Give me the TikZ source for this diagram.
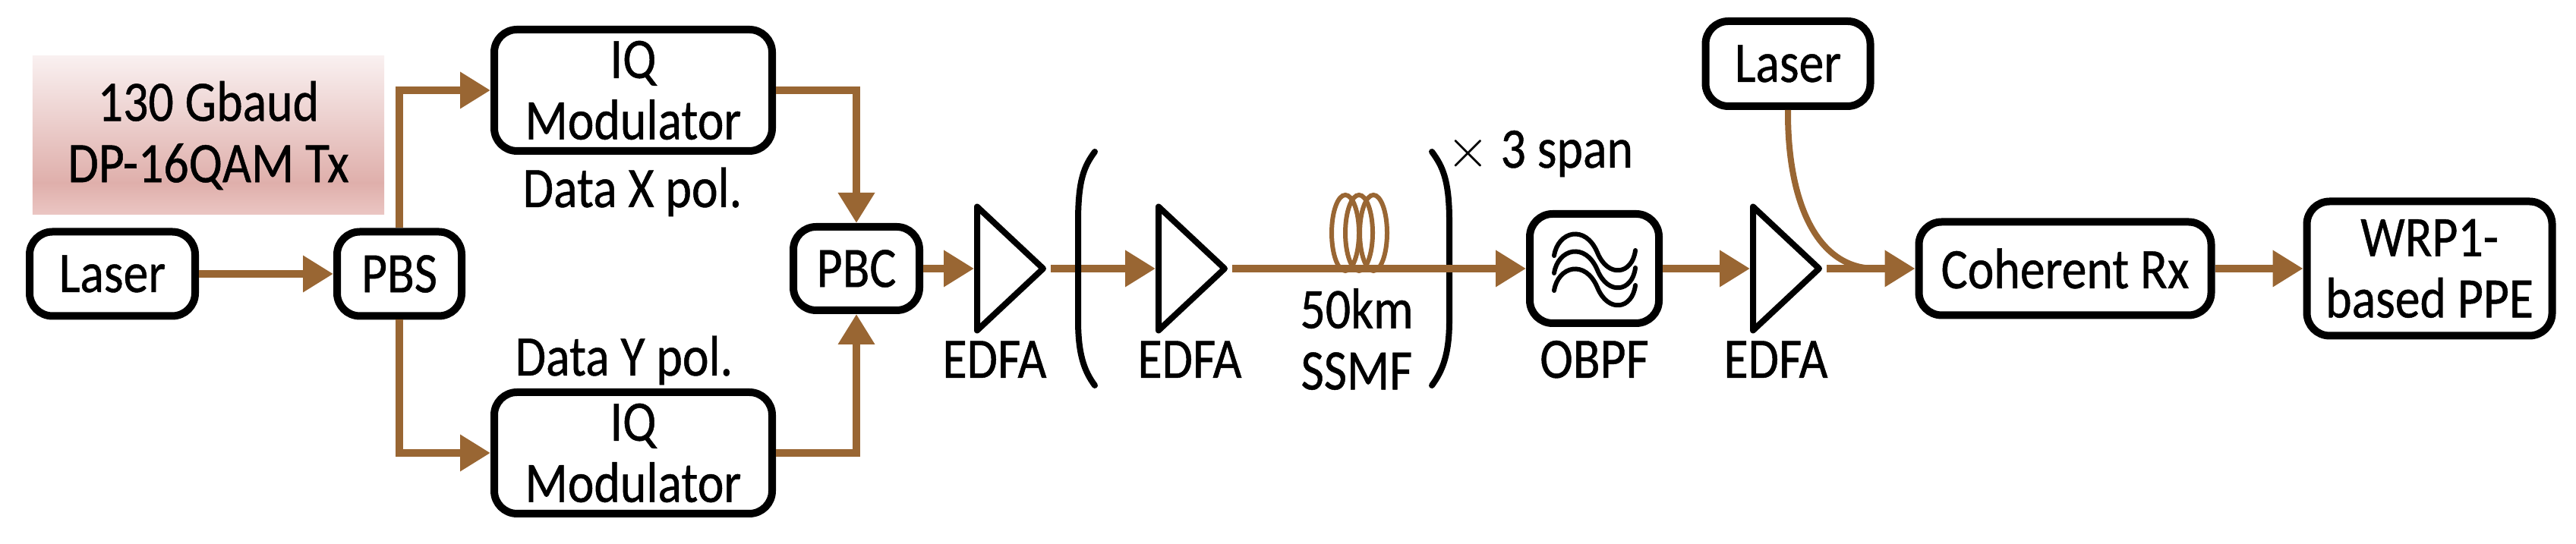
\documentclass[tikz,border=0pt]{standalone}
\usepackage{amsmath,amssymb}
\usepackage{fontspec}
\setmainfont[FakeStretch=0.87,FakeBold=0.6]{Carlito}
\usetikzlibrary{arrows.meta,positioning,calc,shapes.geometric}
\definecolor{fibrebrown}{HTML}{996633}
\definecolor{rosebot}{HTML}{EBC6C3}
\definecolor{rosedark}{HTML}{DFAFAB}
\definecolor{rosetop}{HTML}{F9F0F0}
\pgfdeclareverticalshading{txshade}{100bp}{color(0bp)=(rosebot); color(25bp)=(rosebot); color(35bp)=(rosedark); color(75bp)=(rosetop); color(100bp)=(rosetop)}

\begin{document}
\begin{tikzpicture}[>={Triangle[length=4mm,width=4.6mm]},
  every node/.style={font=\fontsize{21.5}{23}\selectfont,align=center},
  blockbox/.style={draw,rounded corners=3mm,line width=1mm},
  edfa/.style={isosceles triangle,isosceles triangle stretches,draw,line width=0.8mm,line join=round,
    inner sep=0pt,minimum height=0.87cm,minimum width=1.63cm,anchor=lower side},
  fibre/.style={->,line width=1mm,draw=fibrebrown},
  brace/.style={line width=0.8mm,line cap=round}]
\useasboundingbox (0,0) rectangle (33.93,7.17);
\node[shading=txshade,minimum width=4.63cm,minimum height=2.09cm,inner sep=0pt] (tx) at (2.745,5.385) {130 Gbaud\\DP-16QAM Tx};
\node[blockbox,minimum width=2.18cm,minimum height=1.11cm,inner sep=0pt] (laser1) at (1.48,3.56) {Laser};
\node[blockbox,minimum width=1.64cm,minimum height=1.11cm,inner sep=0pt] (pbs) at (5.26,3.56) {PBS};
\node[blockbox,minimum width=3.66cm,minimum height=1.60cm,inner sep=0pt] (iqx) at (8.34,5.98) {IQ\\Modulator};
\node[blockbox,minimum width=3.66cm,minimum height=1.60cm,inner sep=0pt] (iqy) at (8.34,1.20) {IQ\\Modulator};
\node[blockbox,minimum width=1.66cm,minimum height=1.10cm,inner sep=0pt] (pbc) at (11.28,3.63) {PBC};
\node[edfa] (edfa1) at (12.83,3.63) {};
\node[edfa] (edfa2) at (15.22,3.63) {};
\node[edfa] (edfa3) at (23.05,3.63) {};
\node[blockbox,minimum width=1.70cm,minimum height=1.44cm,inner sep=0pt] (obpf) at (21.00,3.63) {};
\node[blockbox,minimum width=2.17cm,minimum height=1.12cm,inner sep=0pt] (laser2) at (23.55,6.33) {Laser};
\node[blockbox,minimum width=3.85cm,minimum height=1.23cm,inner sep=0pt] (coherent) at (27.20,3.63) {Coherent Rx};
\node[blockbox,minimum width=3.23cm,minimum height=1.77cm,inner sep=0pt] (wrp) at (32.00,3.63) {WRP1-\\based PPE};
\coordinate (merge) at (24.70,3.63);
% labels
\node[anchor=base] (xpol) at (8.33,4.44) {Data X pol.};
\node[anchor=base] (ypol) at (8.22,2.22) {Data Y pol.};
\node[anchor=base] (lab1) at (13.10,2.19) {EDFA};
\node[anchor=base] (lab2) at (15.67,2.19) {EDFA};
\node[anchor=base] (lab3) at (23.39,2.19) {EDFA};
\node[anchor=base] (labf) at (21.00,2.19) {OBPF};
\node (ssmf) at (17.87,2.70) {50km\\SSMF};
\node[anchor=base] (span) at (20.28,4.96) {$\times$ 3 span};
% fibre coil
\foreach \cx in {17.72,17.90,18.09}
  \draw[line width=0.6mm,draw=fibrebrown] (\cx,4.10) ellipse (0.18 and 0.50);
% right bracket
\draw[brace] (18.86,5.17) .. controls (19.00,4.98) and (19.09,4.80) .. (19.09,4.25) -- (19.09,2.95) .. controls (19.09,2.50) and (19.00,2.28) .. (18.86,2.09);
% connectors
\draw[fibre] (laser1) -- (pbs);
\draw[fibre] (pbs.north) |- (iqx.west);
\draw[fibre] (pbs.south) |- (iqy.west);
\draw[fibre] (iqx.east) -| (pbc.north);
\draw[fibre] (iqy.east) -| (pbc.south);
\draw[fibre] (pbc.east) -- (edfa1.lower side);
\draw[fibre] (edfa1.apex) -- (edfa2.lower side);
\draw[fibre] (edfa2.apex) -- (obpf.west);
\draw[fibre] (obpf.east) -- (edfa3.lower side);
\draw[fibre] (edfa3.apex) -- (coherent.west);
\draw[fibre] (coherent.east) -- (wrp.west);
\draw[line width=0.8mm,draw=fibrebrown] (laser2.south) .. controls (23.54,4.57) and (23.90,3.63) .. (merge);
% left bracket
\draw[brace] (14.42,5.17) .. controls (14.28,4.98) and (14.20,4.80) .. (14.20,4.25) -- (14.20,2.95) .. controls (14.20,2.50) and (14.28,2.28) .. (14.42,2.09);
% filter symbol
\foreach \dy in {0,-0.23,-0.46}
  \draw[line width=0.6mm,line cap=round] (20.47,3.80+\dy) .. controls (20.52,4.12+\dy) and (20.88,4.22+\dy) .. (21.04,3.84+\dy) .. controls (21.18,3.50+\dy) and (21.50,3.55+\dy) .. (21.54,3.87+\dy);
\end{tikzpicture}
\end{document}
